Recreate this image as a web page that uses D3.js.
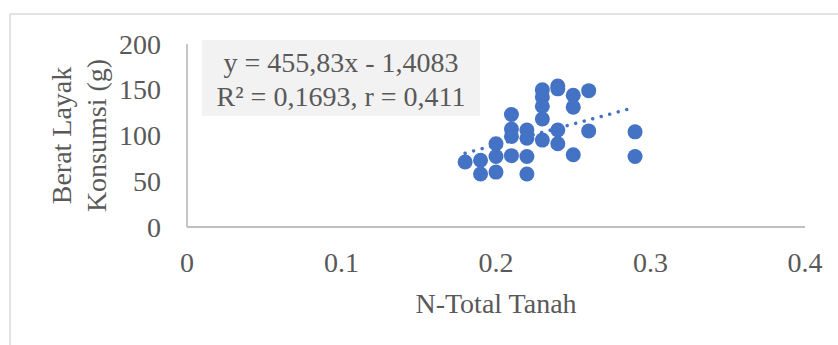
<!DOCTYPE html>
<html><head><meta charset="utf-8">
<script src="https://cdn.jsdelivr.net/npm/d3@7"></script>
<style>body{margin:0;background:#fff}svg{display:block}text{font-family:"Liberation Serif","Times New Roman",serif;fill:#595959}</style>
</head><body>
<script>
const nTotal = [0.18,0.19,0.19,0.20,0.20,0.20,0.21,0.21,0.21,0.21,0.22,0.22,0.22,0.22,0.23,0.23,0.23,0.23,0.23,0.24,0.24,0.24,0.24,0.25,0.25,0.25,0.26,0.26,0.29,0.29];
const berat  = [71,73,58,91,77,60,123,107,99,78,106,97,77,58,150,142,132,118,95,154,151,106,91,144,131,79,149,105,104,77];
const xTicks = [0,0.1,0.2,0.3,0.4];
const yTicks = [0,50,100,150,200];
const slope = 455.83, intercept = -1.4083;
const eqLines = ["y = 455,83x - 1,4083","R² = 0,1693, r = 0,411"];
const xTitle = "N-Total Tanah";
const yTitle = ["Berat Layak","Konsumsi (g)"];

const W=838,H=345;
const svg=d3.select("body").append("svg").attr("width",W).attr("height",H);
// chart frame
svg.append("rect").attr("x",10).attr("y",14).attr("width",W+20).attr("height",H+20)
  .attr("fill","#fff").attr("stroke","#d9d9d9").attr("stroke-width",1.5);

const x=d3.scaleLinear().domain([0,0.4]).range([187,805]);
const y=d3.scaleLinear().domain([0,200]).range([227,44]);

// axes lines
svg.append("line").attr("x1",x(0)).attr("x2",x(0.4)).attr("y1",y(0)).attr("y2",y(0)).attr("stroke","#bfbfbf").attr("stroke-width",1.8);
svg.append("line").attr("x1",x(0)).attr("x2",x(0)).attr("y1",y(0)).attr("y2",y(200)).attr("stroke","#bfbfbf").attr("stroke-width",1.8);

const fs=28;
svg.selectAll(".xt").data(xTicks).enter().append("text")
  .attr("x",d=>x(d)).attr("y",272).attr("text-anchor","middle").attr("font-size",fs)
  .text(d=>d===0?"0":d3.format(".1f")(d));
svg.selectAll(".yt").data(yTicks).enter().append("text")
  .attr("x",161).attr("y",d=>y(d)).attr("dy","0.34em").attr("text-anchor","end").attr("font-size",fs)
  .text(d=>d);

svg.append("text").attr("x",(x(0)+x(0.4))/2).attr("y",313).attr("text-anchor","middle").attr("font-size",fs).text(xTitle);
const cy=(y(0)+y(200))/2;
yTitle.forEach((t,i)=>{
  svg.append("text").attr("transform",`translate(${71+i*35},${cy}) rotate(-90)`)
    .attr("text-anchor","middle").attr("font-size",fs).text(t);
});

// trendline
const ext=d3.extent(nTotal);
svg.append("line").attr("x1",x(ext[0])).attr("y1",y(slope*ext[0]+intercept))
  .attr("x2",x(ext[1]-0.005)).attr("y2",y(slope*(ext[1]-0.005)+intercept))
  .attr("stroke","#4472c4").attr("stroke-width",3.5).attr("stroke-linecap","round").attr("stroke-dasharray","0.01 8.8");

// points
svg.selectAll("circle.p").data(nTotal).enter().append("circle")
  .attr("cx",d=>x(d)).attr("cy",(d,i)=>y(berat[i])).attr("r",7.5).attr("fill","#4472c4");

// equation box
svg.append("rect").attr("x",202).attr("y",40).attr("width",278).attr("height",76).attr("fill","#f2f2f2");
eqLines.forEach((t,i)=>{
  svg.append("text").attr("x",341).attr("y",72+i*34).attr("text-anchor","middle").attr("font-size",fs).text(t);
});
</script>
</body></html>
